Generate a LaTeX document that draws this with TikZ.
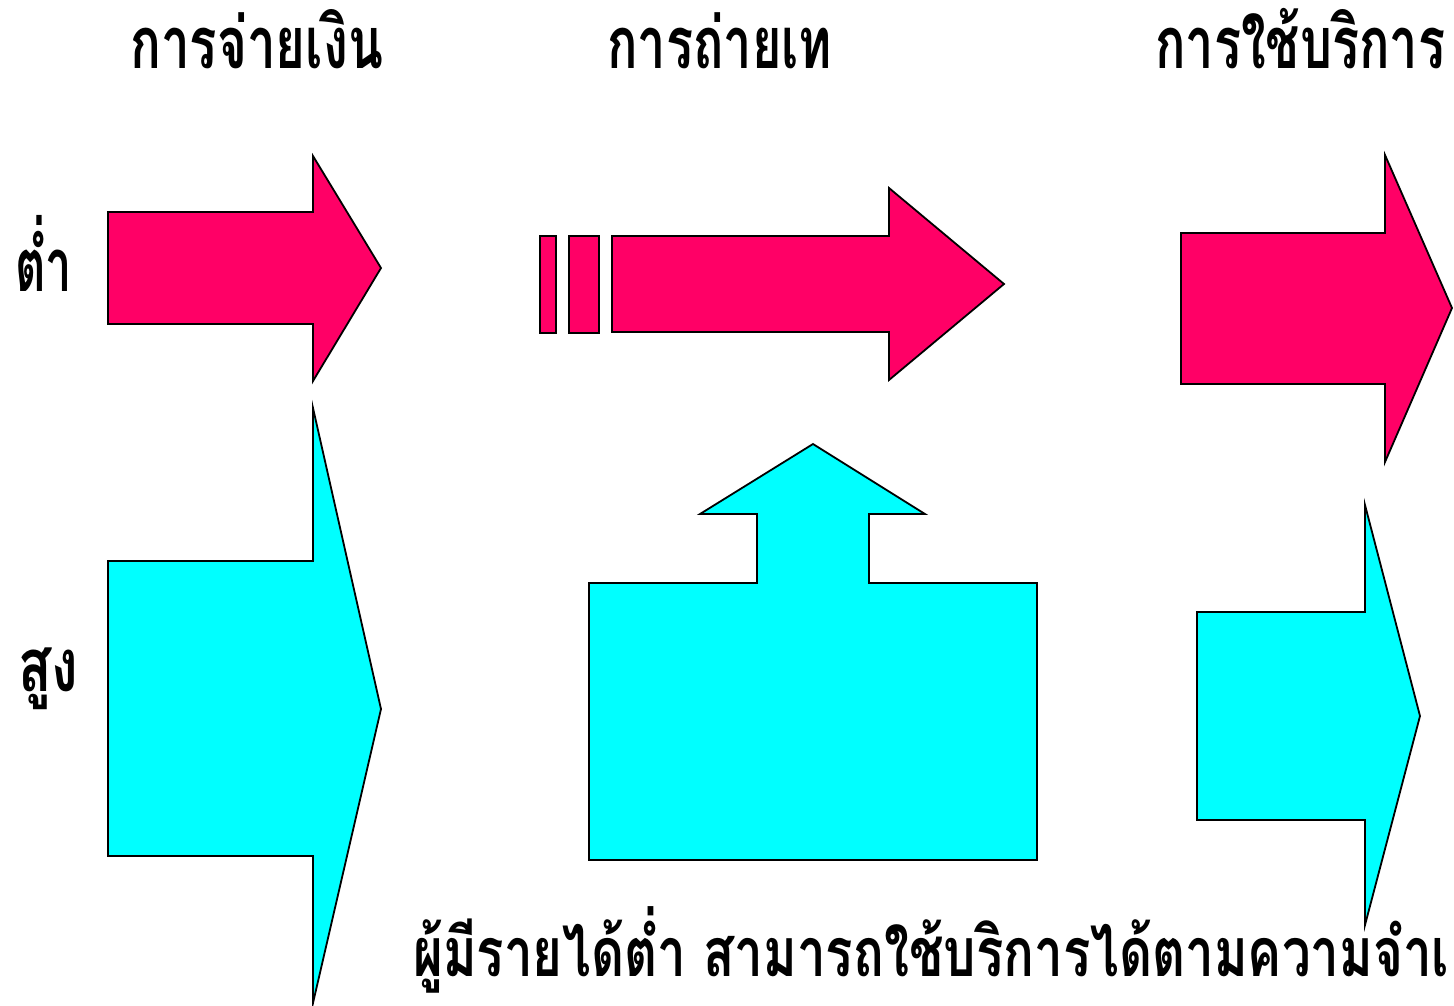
\documentclass[tikz,border=0pt]{standalone}
\usepackage{fontspec}
\usepackage{graphicx}
\newfontfamily\thaifont[Script=Thai]{Loma}
\definecolor{pinkfill}{HTML}{FF0066}
\definecolor{cyanfill}{HTML}{00FFFF}
\newcommand{\fitw}[2]{\resizebox{#1}{\height}{#2}}
\begin{document}
\begin{tikzpicture}[x=1pt,y=-1pt,
 pinkshape/.style={fill=pinkfill,draw=black,line width=1.8pt,line join=miter},
 cyanshape/.style={fill=cyanfill,draw=black,line width=1.8pt,line join=miter},
 head/.style={font=\thaifont\bfseries\fontsize{72}{76}\selectfont,inner sep=0pt,anchor=base west},
 side/.style={font=\thaifont\bfseries\fontsize{74}{78}\selectfont,inner sep=0pt,anchor=base west},
 foot/.style={font=\thaifont\bfseries\fontsize{68}{72}\selectfont,inner sep=0pt,anchor=base west}]
\useasboundingbox (0,0) rectangle (1454,1005);
% headers
\node[head] (h1) at (130,68) {\fitw{253pt}{การจ่ายเงิน}};
\node[head] (h2) at (607,68) {\fitw{225pt}{การถ่ายเท}};
\node[head] (h3) at (1155,68) {\fitw{290pt}{การใช้บริการ}};
% side labels
\node[side] (low) at (15,291) {\fitw{57pt}{ต่ำ}};
\node[side] (high) at (18,691) {\fitw{60pt}{สูง}};
% pink arrows
\draw[pinkshape] (108,212) -- (313,212) -- (313,156) -- (381,268) -- (313,381) -- (313,324) -- (108,324) -- cycle;
\draw[pinkshape] (540,236) rectangle (556,333);
\draw[pinkshape] (569,236) rectangle (599,333);
\draw[pinkshape] (612,236) -- (889,236) -- (889,188) -- (1004,284) -- (889,380) -- (889,332) -- (612,332) -- cycle;
\draw[pinkshape] (1181,233) -- (1385,233) -- (1385,155) -- (1452,308) -- (1385,462) -- (1385,384) -- (1181,384) -- cycle;
% cyan arrows
\draw[cyanshape] (108,561) -- (313,561) -- (313,408) -- (381,709) -- (313,1003) -- (313,856) -- (108,856) -- cycle;
\draw[cyanshape] (589,583) -- (757,583) -- (757,514) -- (700,514) -- (813,444) -- (925,514) -- (869,514) -- (869,583) -- (1037,583) -- (1037,860) -- (589,860) -- cycle;
\draw[cyanshape] (1197,612) -- (1365,612) -- (1365,505) -- (1420,716) -- (1365,925) -- (1365,820) -- (1197,820) -- cycle;
% footer
\node[foot] (note) at (413,976) {\fitw{1036pt}{ผู้มีรายได้ต่ำ สามารถใช้บริการได้ตามความจำเ}};
\end{tikzpicture}
\end{document}
